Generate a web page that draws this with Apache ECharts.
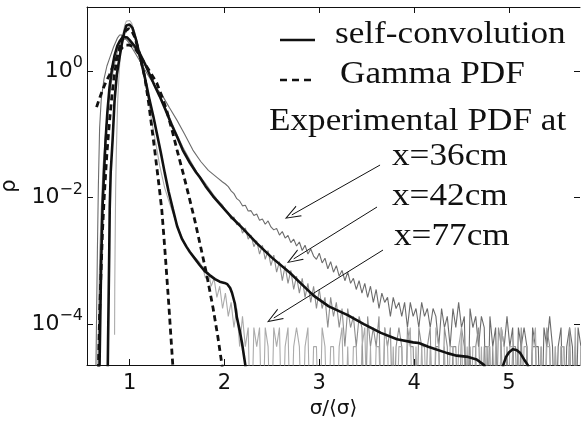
<!DOCTYPE html>
<html>
<head>
<meta charset="utf-8">
<title>Self-convolution vs experimental PDFs</title>
<script src="https://cdn.jsdelivr.net/npm/echarts@6/dist/echarts.min.js"></script>
<style>
  html, body { margin: 0; padding: 0; background: #fff; }
  #chart { width: 581px; height: 422px; }
</style>
</head>
<body>
<div id="chart"></div>
<script>
// Smooth parts as [σ/<σ>, log10 ρ]
const expPdf36 = [
  [0.64,-5.2],[0.65,-4.0],[0.66,-2.8],[0.67,-1.8],[0.683,-0.9],[0.70,-0.45],[0.73,-0.12],[0.76,0.08],
  [0.788,0.2],[0.83,0.38],[0.87,0.52],[0.894,0.57],[0.92,0.57],[0.95,0.53],[0.99,0.45],[1.04,0.33],
  [1.10,0.18],[1.16,0.02],[1.22,-0.13],[1.29,-0.28],[1.35,-0.40],[1.42,-0.58],[1.50,-0.78],[1.58,-1.0],
  [1.667,-1.25],[1.75,-1.43],[1.83,-1.57],[1.92,-1.68]
];
const expPdf42 = [
  [0.66,-5.2],[0.672,-4.0],[0.683,-3.0],[0.70,-2.2],[0.72,-1.5],[0.75,-0.9],[0.78,-0.45],[0.82,-0.05],
  [0.86,0.25],[0.90,0.44],[0.93,0.50],[0.96,0.50],[1.0,0.45],[1.05,0.36],[1.11,0.24],[1.17,0.07],
  [1.24,-0.15],[1.32,-0.40],[1.40,-0.66],[1.48,-0.94],[1.56,-1.20],[1.64,-1.42],[1.71,-1.60],[1.80,-1.78],
  [1.88,-1.95]
];
const expPdf77 = [
  [0.841,-4.17],[0.843,-3.4],[0.846,-2.83],[0.852,-1.9],[0.86,-1.25],[0.873,-0.50],[0.89,0.0],[0.905,0.33],
  [0.925,0.55],[0.947,0.72],[0.965,0.79],[0.979,0.81],[1.0,0.80],[1.02,0.76],[1.05,0.63],[1.074,0.49],
  [1.11,0.20],[1.16,-0.14],[1.2,-0.5],[1.233,-0.80],[1.28,-1.18],[1.317,-1.50],[1.37,-1.85],[1.423,-2.10],
  [1.48,-2.35],[1.53,-2.55],[1.58,-2.72],[1.635,-2.86],[1.69,-2.95],[1.74,-3.03]
];

// Noisy tails: counts per bin (0 = empty bin), bins of width BIN from the given start
const BIN = 0.03;
const COUNT_UNIT = 4.4e-5;   // density of one count, the floor level in the picture
const EMPTY = 1e-6;          // empty bin, drawn below the axis
const tail36Start = 1.98;
const tail36 = [400,372,338,290,262,218,201,168,172,139,141,118,125,99,104,86,97,78,70,74,58,66,52,57,44,50,
  39,45,33,40,29,35,27,24,30,21,25,17,22,15,19,13,16,11,15,10,12,8,11,7,10,6,9,5,8,4,7,5,6,3,6,4,5,3,5,2,5,3,
  4,2,5,3,4,2,4,3,1,4,2,3,1,4,2,5,2,3,0,4,2,3,1,3,2,0,3,1,2,0,2,1,3,1,2,0,2,1,2,1,0,2,1,1,0,2,1,3,1,0,1,2,0,1,
  2,1,0,2,1];
const tail42Start = 1.92;
const tail42 = [215,190,172,140,131,104,112,84,90,62,75,50,58,38,47,29,40,24,33,19,28,15,22,11,19,10,16,8,13,7,
  12,6,10,5,9,4,8,4,6,2,6,3,5,2,4,1,4,2,3,1,3,2,0,3,1,2,1,3,0,2,1,2,0,1,2,1,0,2,1,1,0,2,1,0,1,2,0,1,1,0,2,1,0,
  1,1,0,2,1,0,1,0,1,2,0,1,1,0,1,0,2,1,0,1,0,1,1,0,2,0,1,0,1,1,0,1,0,2,1,0,1,0,1,1,0,2,0,1,0,1];
const tail77Start = 1.77;
const tail77 = [18,12,15,9,12,6,9,4,7,3,5,2,4,1,3,1,2,0,2,1,2,0,2,1,0,2,1,2,0,1,2,0,1,2,1,0,1,2,0,1,1,0,2,1,0,
  1,1,0,1,2,0,1,0,1,1,0,1,2,0,1,0,1,1,0,2,1,0,1,0,1,1,0,1,2,0,1,0,1,1,0,1,0,2,1,0,1,0,1,1,0,1,2,0,1,0,1,1,0,1,
  0,1,1,0,1,0,2,1,0,1,1,0,1,0,1,1,0,1,2,0,1,0,1,1,0,1,0,1,1,0,1,0,2,0,1];

// Model curves [σ/<σ>, log10 ρ]
const selfConv42 = [
  [0.675,-5.2],[0.683,-4.6],[0.693,-3.62],[0.70,-3.0],[0.714,-2.15],[0.73,-1.6],[0.746,-1.09],[0.765,-0.65],
  [0.788,-0.25],[0.815,0.05],[0.841,0.25],[0.87,0.40],[0.894,0.47],[0.92,0.52],[0.947,0.54],[0.975,0.53],
  [1.0,0.49],[1.05,0.40],[1.106,0.28],[1.16,0.12],[1.21,-0.05],[1.26,-0.22],[1.317,-0.40],[1.38,-0.62],
  [1.44,-0.84],[1.50,-1.04],[1.56,-1.25],[1.635,-1.45],[1.70,-1.60],[1.74,-1.68],[1.80,-1.82],[1.88,-1.98],
  [1.98,-2.15],[2.08,-2.32],[2.2,-2.50],[2.34,-2.72],[2.5,-2.95],[2.69,-3.19],[2.80,-3.35],[2.94,-3.55],
  [3.1,-3.72],[3.30,-3.86],[3.47,-4.0],[3.65,-4.14],[3.82,-4.24],[3.99,-4.29],[4.05,-4.30],[4.15,-4.36],
  [4.35,-4.46],[4.45,-4.50],[4.57,-4.52],[4.66,-4.56],[4.74,-4.65],[4.78,-5.2],[4.90,-5.2],[4.94,-4.65],
  [4.97,-4.52],[5.0,-4.45],[5.04,-4.40],[5.08,-4.41],[5.12,-4.46],[5.16,-4.56],[5.2,-4.65],[5.24,-5.2]
];
const selfConv77 = [
  [0.765,-5.2],[0.772,-4.3],[0.778,-3.62],[0.785,-2.8],[0.79,-2.15],[0.80,-1.6],[0.82,-1.09],[0.841,-0.46],
  [0.865,-0.05],[0.894,0.22],[0.92,0.45],[0.945,0.62],[0.965,0.72],[0.976,0.743],[1.0,0.735],[1.03,0.68],
  [1.07,0.48],[1.11,0.22],[1.16,-0.10],[1.21,-0.46],[1.25,-0.72],[1.286,-0.98],[1.33,-1.30],[1.37,-1.61],
  [1.41,-1.90],[1.455,-2.18],[1.50,-2.45],[1.55,-2.65],[1.60,-2.78],[1.635,-2.86],[1.69,-2.97],[1.74,-3.07],
  [1.79,-3.16],[1.846,-3.23],[1.90,-3.29],[1.95,-3.33],[2.0,-3.35],[2.03,-3.37],[2.06,-3.43],[2.08,-3.51],
  [2.11,-3.68],[2.13,-3.89],[2.16,-4.10],[2.185,-4.30],[2.22,-4.65],[2.25,-5.2]
];
const gammaNarrow = [
  [0.665,-5.2],[0.672,-4.6],[0.683,-3.83],[0.70,-3.1],[0.714,-2.51],[0.735,-1.9],[0.76,-1.3],[0.79,-0.75],
  [0.815,-0.35],[0.84,-0.05],[0.87,0.22],[0.90,0.42],[0.93,0.56],[0.96,0.64],[0.99,0.67],[1.02,0.64],
  [1.05,0.55],[1.10,0.30],[1.16,-0.10],[1.20,-0.50],[1.233,-0.885],[1.26,-1.20],[1.286,-1.52],[1.315,-1.88],
  [1.339,-2.2],[1.36,-2.6],[1.38,-3.0],[1.413,-3.7],[1.435,-4.2],[1.455,-4.65],[1.47,-5.2]
];
const gammaBroad = [
  [0.651,-0.57],[0.68,-0.44],[0.714,-0.30],[0.75,-0.17],[0.788,-0.06],[0.83,0.10],[0.873,0.25],[0.90,0.33],
  [0.926,0.38],[0.96,0.41],[1.0,0.41],[1.03,0.39],[1.063,0.34],[1.10,0.26],[1.138,0.17],[1.21,0.0],
  [1.286,-0.19],[1.34,-0.40],[1.39,-0.62],[1.45,-0.95],[1.50,-1.25],[1.57,-1.65],[1.635,-2.04],[1.69,-2.38],
  [1.74,-2.72],[1.81,-3.2],[1.88,-3.75],[1.93,-4.2],[1.974,-4.65],[1.99,-5.2]
];

// Annotation arrows: [tailX, tailLog, headX, headLog]
const arrows = [
  [3.641, -1.486, 2.71, -2.275],
  [3.609, -2.150, 2.73, -2.970],
  [3.672, -2.830, 2.52, -3.905]
];

const X_TICKS = [1, 2, 3, 4, 5];
const Y_TICKS = [1e-4, 1e-2, 1];

const fromLog = (arr) => arr.map(([x, e]) => [x, Math.pow(10, e)]);
const tailPts = (x0, counts) =>
  counts.map((c, i) => [+(x0 + i * BIN).toFixed(3), c > 0 ? c * COUNT_UNIT : EMPTY]);

const INK = '#111';
const SERIF = '"Liberation Serif", "Times New Roman", serif';
const SANS = '"DejaVu Sans", sans-serif';

const chart = echarts.init(document.getElementById('chart'));

function expSeries(name, smooth, x0, counts, color) {
  return {
    name, type: 'line', symbol: 'none', silent: true, z: 1,
    data: fromLog(smooth).concat(tailPts(x0, counts)),
    lineStyle: { width: 1.1, color }
  };
}
function modelSeries(name, pts, dashed) {
  return {
    name, type: 'line', symbol: 'none', silent: true, z: 3,
    data: fromLog(pts),
    lineStyle: { width: dashed ? 2.8 : 2.6, color: INK, type: dashed ? [6, 4] : 'solid' }
  };
}

const xBase = {
  type: 'value', min: 0.55, max: 5.75,
  splitLine: { show: false },
  axisLine: { show: true, lineStyle: { color: INK, width: 1 } },
  axisTick: { inside: true, length: 6, customValues: X_TICKS, lineStyle: { color: INK } }
};
const yBase = {
  type: 'log', logBase: 10, min: 2.25e-5, max: 10.3,
  splitLine: { show: false },
  axisLine: { show: true, lineStyle: { color: INK, width: 1 } },
  axisTick: { inside: true, length: 6, customValues: Y_TICKS, lineStyle: { color: INK } }
};

const legendText = (text, x, y) => ({
  type: 'text', x, y, scaleX: 1.1, silent: true,
  style: { text, font: '32px ' + SERIF, fill: INK, align: 'left', verticalAlign: 'middle' }
});

chart.setOption({
  animation: false,
  grid: { left: 87, right: 1, top: 7, bottom: 57, outerBoundsMode: 'none' },
  xAxis: [
    Object.assign({}, xBase, {
      position: 'bottom',
      name: 'σ/⟨σ⟩', nameLocation: 'middle', nameGap: 30,
      nameTextStyle: { fontFamily: SANS, fontSize: 20, color: INK },
      axisLabel: { customValues: X_TICKS, margin: 8, fontFamily: SANS, fontSize: 21, color: INK }
    }),
    Object.assign({}, xBase, { position: 'top', axisLabel: { show: false } })
  ],
  yAxis: [
    Object.assign({}, yBase, {
      position: 'left',
      name: 'ρ', nameLocation: 'middle', nameGap: 60,
      nameTextStyle: { fontFamily: SANS, fontSize: 21, color: INK },
      axisLabel: {
        customValues: Y_TICKS, margin: 4,
        formatter: (v) => {
          const e = Math.round(Math.log10(v));
          return '{b|10}{s|' + (e < 0 ? '\u2212' + (-e) : String(e)) + '}';
        },
        rich: {
          b: { fontFamily: SANS, fontSize: 22, lineHeight: 32, color: INK },
          s: { fontFamily: SANS, fontSize: 16, lineHeight: 17, verticalAlign: 'top', color: INK }
        }
      }
    }),
    Object.assign({}, yBase, {
      position: 'right', axisLine: { show: false }, axisLabel: { show: false }
    })
  ],
  series: [
    expSeries('x=36cm', expPdf36, tail36Start, tail36, '#6c6c6c'),
    expSeries('x=42cm', expPdf42, tail42Start, tail42, '#8e8e8e'),
    expSeries('x=77cm', expPdf77, tail77Start, tail77, '#ababab'),
    modelSeries('self-convolution', selfConv42, false),
    modelSeries('self-convolution', selfConv77, false),
    modelSeries('Gamma PDF', gammaNarrow, true),
    modelSeries('Gamma PDF', gammaBroad, true),
    {
      name: 'arrows', type: 'line', data: [], silent: true, z: 4,
      markLine: {
        silent: true, animation: false,
        symbol: ['none', 'path://M0,0 L6,14 L4.9,14 L0,2.4 L-4.9,14 L-6,14 Z'],
        symbolSize: [12, 16],
        label: { show: false },
        lineStyle: { color: INK, width: 1, type: 'solid' },
        emphasis: { disabled: true },
        data: arrows.map(([x1, e1, x2, e2]) => [
          { coord: [x1, Math.pow(10, e1)] },
          { coord: [x2, Math.pow(10, e2)] }
        ])
      }
    }
  ],
  graphic: [
    { type: 'line', silent: true, shape: { x1: 280, y1: 40, x2: 315, y2: 40 },
      style: { stroke: INK, lineWidth: 2.5 } },
    { type: 'line', silent: true, shape: { x1: 280, y1: 80, x2: 313, y2: 80 },
      style: { stroke: INK, lineWidth: 2.5, lineDash: [7, 5] } },
    legendText('self-convolution', 335, 35),
    legendText('Gamma PDF', 340, 75),
    legendText('Experimental PDF at', 269, 122),
    legendText('x=36cm', 392, 157),
    legendText('x=42cm', 392, 197),
    legendText('x=77cm', 394, 237)
  ]
});
</script>
</body>
</html>
